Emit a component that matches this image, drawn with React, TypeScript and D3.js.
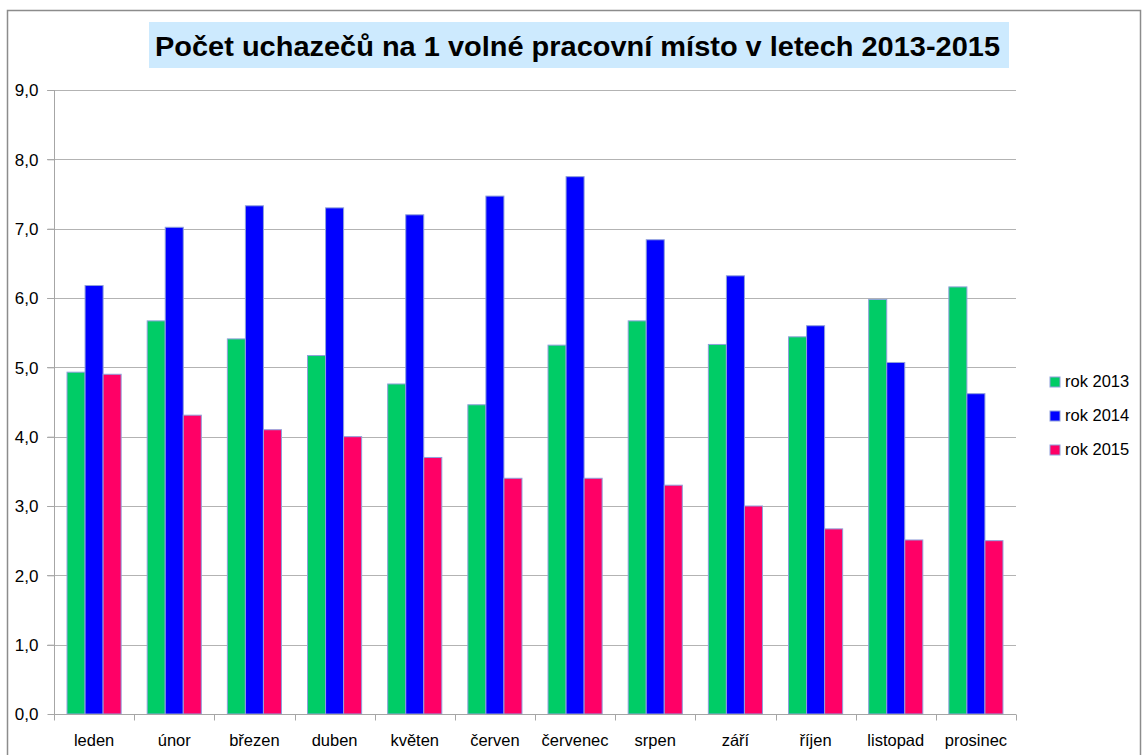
// @ts-nocheck
import * as d3 from "d3"
import { useEffect, useRef } from "react"
import * as React from "react"

const months = ["leden", "únor", "březen", "duben", "květen", "červen", "červenec", "srpen", "září", "říjen", "listopad", "prosinec"]
const seriesNames = ["rok 2013", "rok 2014", "rok 2015"]
const rok2013 = [4.93, 5.67, 5.41, 5.17, 4.76, 4.46, 5.32, 5.67, 5.33, 5.44, 5.98, 6.16]
const rok2014 = [6.18, 7.02, 7.33, 7.30, 7.20, 7.47, 7.75, 6.84, 6.32, 5.60, 5.07, 4.62]
const rok2015 = [4.90, 4.31, 4.10, 4.00, 3.70, 3.40, 3.40, 3.30, 3.00, 2.67, 2.51, 2.50]
const yTicks = [0, 1, 2, 3, 4, 5, 6, 7, 8, 9]
const colors = ["#00cc66", "#0000ff", "#ff0066"]
const title = "Počet uchazečů na 1 volné pracovní místo v letech 2013-2015"

function buildSVG() {
  const width = 1142
  const height = 755
  const m = { left: 54, right: 1016, top: 90, bottom: 714 }
  const font = "'Liberation Sans', Arial, sans-serif"

  const x = d3.scaleBand().domain(months).range([m.left, m.right]).paddingInner(0.325).paddingOuter(0.1625)
  const xs = d3.scaleBand().domain(seriesNames).range([0, x.bandwidth()])
  const y = d3.scaleLinear().domain([0, 9]).range([m.bottom, m.top])

  const svg = d3.create("svg")
    .attr("width", width)
    .attr("height", height)
    .style("position", "absolute")
    .style("left", "0px")
    .style("top", "0px")
    .style("background", "#fff")

  // outer chart border
  svg.append("rect")
    .attr("x", 7.5).attr("y", 10.5).attr("width", 1133).attr("height", 780)
    .attr("fill", "none").attr("stroke", "#8c8c8c").attr("stroke-width", 1.5)

  // title
  svg.append("rect")
    .attr("x", 149).attr("y", 22).attr("width", 860).attr("height", 46)
    .attr("fill", "#cdeafe")
  svg.append("text")
    .attr("x", 155).attr("y", 56)
    .attr("textLength", 845).attr("lengthAdjust", "spacingAndGlyphs")
    .style("font-family", font).style("font-weight", "bold").style("font-size", "27px")
    .attr("fill", "#000")
    .text(title)

  // gridlines
  svg.append("g").selectAll("line").data(yTicks.slice(1)).join("line")
    .attr("x1", m.left - 7).attr("x2", m.right)
    .attr("y1", d => Math.round(y(d)) + 0.5).attr("y2", d => Math.round(y(d)) + 0.5)
    .attr("stroke", "#b3b3b3").attr("stroke-width", 1)

  // y axis
  const ya = svg.append("g").attr("transform", `translate(${m.left + 0.5},0)`)
    .call(d3.axisLeft(y).tickValues(yTicks).tickSize(7).tickFormat(d => d3.format(".1f")(d).replace(".", ",")))
  ya.select(".domain").attr("stroke", "#a6a6a6").attr("d", `M0,${m.top}V${m.bottom}`)
  ya.selectAll(".tick line").attr("stroke", "#a6a6a6")
  ya.selectAll(".tick text").attr("x", -16).attr("dy", "0.35em")
    .style("font-family", font).style("font-size", "17px").attr("fill", "#000")

  // bars
  const data = [rok2013, rok2014, rok2015]
  svg.append("g").selectAll("g").data(months).join("g")
    .attr("transform", d => `translate(${x(d)},0)`)
    .selectAll("rect")
    .data((d, i) => seriesNames.map((s, j) => ({ s, v: data[j][i], c: colors[j] })))
    .join("rect")
    .attr("x", d => xs(d.s))
    .attr("width", xs.bandwidth())
    .attr("y", d => y(d.v))
    .attr("height", d => y(0) - y(d.v))
    .attr("fill", d => d.c)
    .attr("stroke", "#8fa0db").attr("stroke-width", 1)

  // x axis
  const xa = svg.append("g").attr("transform", `translate(0,${Math.round(y(0)) + 0.5})`)
  xa.append("line").attr("x1", m.left).attr("x2", m.right).attr("stroke", "#a6a6a6")
  const step = (m.right - m.left) / months.length
  xa.selectAll(".tk").data(d3.range(months.length + 1)).join("line")
    .attr("x1", i => Math.round(m.left + i * step) + 0.5).attr("x2", i => Math.round(m.left + i * step) + 0.5)
    .attr("y1", 0).attr("y2", 6).attr("stroke", "#a6a6a6")
  xa.selectAll("text").data(months).join("text")
    .attr("x", d => x(d) + x.bandwidth() / 2).attr("y", 31)
    .attr("text-anchor", "middle")
    .style("font-family", font).style("font-size", "16.5px").attr("fill", "#000")
    .text(d => d)

  // legend
  const lg = svg.append("g").selectAll("g").data(seriesNames).join("g")
    .attr("transform", (d, i) => `translate(1050,${377 + i * 34})`)
  lg.append("rect").attr("width", 10).attr("height", 10)
    .attr("fill", (d, i) => colors[i]).attr("stroke", "#8fa0db")
  lg.append("text").attr("x", 15).attr("y", 10)
    .style("font-family", font).style("font-size", "16.5px").attr("fill", "#000")
    .text(d => d)

  return svg
}

export default function App() {
  const ref = useRef<HTMLDivElement>(null)
  useEffect(() => {
    const svg = buildSVG()
    const el = ref.current
    while (el.hasChildNodes()) el.removeChild(el.lastChild)
    el.append(svg.node())
  }, [])
  return <div ref={ref} />
}
